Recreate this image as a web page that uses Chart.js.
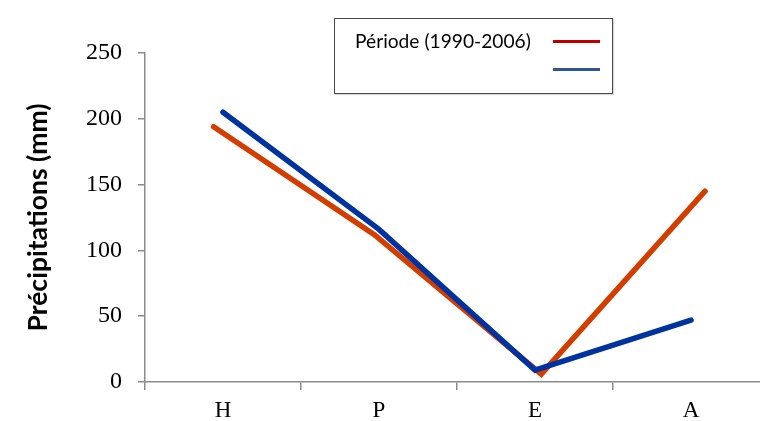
<!DOCTYPE html>
<html>
<head>
<meta charset="utf-8">
<script src="https://cdn.jsdelivr.net/npm/chart.js@4.4.1/dist/chart.umd.min.js"></script>
<style>
  html, body { margin: 0; padding: 0; background: #fff; overflow: hidden; width: 760px; height: 421px; }
  #wrap { position: absolute; left: 0; top: 0; width: 780px; height: 421px; }
  #legend { position: absolute; left: 334px; top: 18px; width: 277px; height: 74px;
    border: 1.5px solid #4a4a4a; background: #fff; box-shadow: 1px 1px 1px rgba(0,0,0,0.15); }
  #legend .txt { position: absolute; left: 20px; top: 10px; font-family: Lato, "Open Sans", sans-serif;
    font-size: 19.2px; color: #000; white-space: nowrap; }
  #legend .ln { position: absolute; left: 218px; width: 47px; height: 3px; }
</style>
</head>
<body>
<div id="wrap"><canvas id="c" width="780" height="421"></canvas></div>
<div id="legend">
  <div class="txt">Période (1990-2006)</div>
  <div class="ln" style="top:21px;background:#c00000"></div>
  <div class="ln" style="top:49px;background:#2f5597"></div>
</div>
<script>
// ---- data ----
const categories = ["H", "P", "E", "A"];
const seriesLabels = ["Période (1990-2006)", ""];
const redValues = [194, 112, 6, 145];
const redPositions = [-0.06, 0.97, 2.04, 3.09];   // red line is slightly shifted horizontally in the source
const blueValues = [205, 116, 9, 47];
const yTicks = [0, 50, 100, 150, 200, 250];
const yTitle = "Précipitations (mm)";

const redColor = "#d43d00";
const blueColor = "#0033a0";
const axisColor = "#8c8c8c";

const redData = redValues.map((v, i) => ({ x: redPositions[i], y: v }));

new Chart(document.getElementById("c"), {
  type: "line",
  data: {
    labels: categories,
    datasets: [
      {
        label: seriesLabels[1],
        data: blueValues,
        xAxisID: "x",
        borderColor: blueColor,
        borderWidth: 5.5,
        pointRadius: 0,
        tension: 0,
        borderCapStyle: "round",
        borderJoinStyle: "miter",
        order: 0
      },
      {
        label: seriesLabels[0],
        data: redData,
        xAxisID: "xr",
        borderColor: redColor,
        borderWidth: 5.5,
        pointRadius: 0,
        tension: 0,
        borderCapStyle: "round",
        borderJoinStyle: "miter",
        order: 1
      }
    ]
  },
  options: {
    responsive: false,
    animation: false,
    layout: { padding: { top: 53, right: 11, left: 0, bottom: 0 } },
    plugins: { legend: { display: false }, tooltip: { enabled: false } },
    scales: {
      x: {
        type: "category",
        offset: true,
        grid: { drawOnChartArea: false, drawTicks: true, tickLength: 8, color: axisColor, lineWidth: 1.5, offset: true },
        border: { display: true, color: axisColor, width: 1.5 },
        ticks: { color: "#000", font: { family: "Liberation Serif", size: 23 }, padding: 7, maxRotation: 0 },
        afterFit: (s) => { s.height = 39; }
      },
      xr: {
        type: "linear",
        display: false,
        min: -0.5,
        max: 3.5
      },
      y: {
        min: 0,
        max: 250,
        afterBuildTicks: (s) => { s.ticks = yTicks.map(v => ({ value: v })); },
        grid: { drawOnChartArea: false, drawTicks: true, tickLength: 7, color: axisColor, lineWidth: 1.5 },
        border: { display: true, color: axisColor, width: 1.5 },
        ticks: { color: "#000", font: { family: "Liberation Serif", size: 24 }, padding: 16 },
        title: { display: true, text: yTitle, color: "#000",
                 font: { family: "Lato", size: 26.5, weight: "bold" }, padding: { top: 23, bottom: 0 } },
        afterFit: (s) => { s.width = 145; }
      }
    }
  }
});
</script>
</body>
</html>
